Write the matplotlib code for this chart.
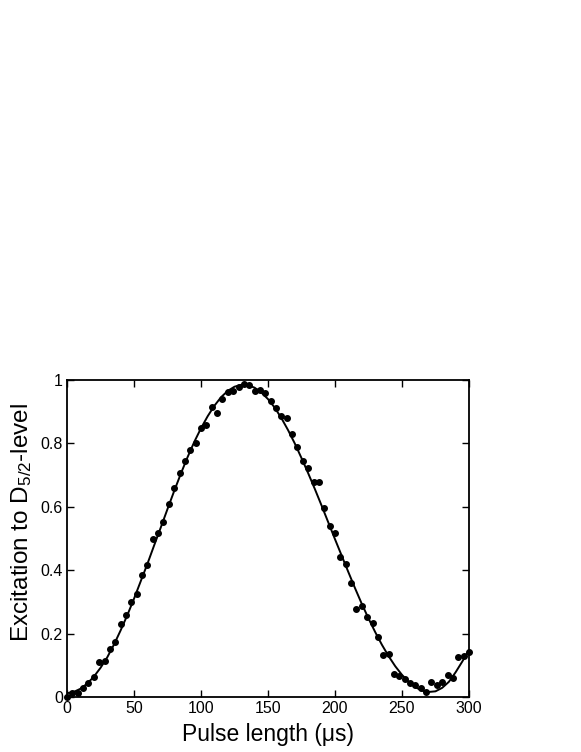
import numpy as np
import matplotlib
matplotlib.use("Agg")
import matplotlib.pyplot as plt

plt.rcParams['font.family'] = ['Liberation Sans', 'DejaVu Sans']
plt.rcParams['mathtext.default'] = 'regular'

# Measured data (pulse length in microseconds, excitation probability)
pulse_us = list(range(0, 301, 4))
excitation = [
    0.000, 0.012, 0.014, 0.027, 0.043, 0.064, 0.111, 0.115, 0.150, 0.175,
    0.230, 0.259, 0.299, 0.324, 0.384, 0.416, 0.498, 0.518, 0.553, 0.609,
    0.661, 0.708, 0.746, 0.779, 0.802, 0.848, 0.858, 0.914, 0.897, 0.939,
    0.963, 0.965, 0.979, 0.987, 0.984, 0.965, 0.968, 0.960, 0.934, 0.911,
    0.886, 0.881, 0.829, 0.788, 0.744, 0.723, 0.679, 0.679, 0.595, 0.540,
    0.519, 0.441, 0.420, 0.359, 0.278, 0.287, 0.251, 0.232, 0.190, 0.132,
    0.136, 0.073, 0.066, 0.056, 0.043, 0.038, 0.027, 0.015, 0.048, 0.038,
    0.048, 0.069, 0.059, 0.125, 0.129, 0.143,
]

# Fit curve
fit_t = list(range(0, 301, 5))
fit_y = [
    0.012, 0.016, 0.026, 0.042, 0.064, 0.092, 0.125, 0.165, 0.210, 0.258,
    0.310, 0.365, 0.420, 0.478, 0.535, 0.593, 0.650, 0.705, 0.757, 0.805,
    0.848, 0.886, 0.919, 0.946, 0.966, 0.979, 0.985, 0.984, 0.976, 0.961,
    0.940, 0.913, 0.880, 0.842, 0.800, 0.754, 0.706, 0.656, 0.604, 0.551,
    0.498, 0.446, 0.394, 0.343, 0.294, 0.248, 0.205, 0.165, 0.129, 0.097,
    0.070, 0.048, 0.031, 0.020, 0.016, 0.018, 0.029, 0.048, 0.078, 0.112,
    0.148,
]

xticks = [0, 50, 100, 150, 200, 250, 300]
yticks = [0, 0.2, 0.4, 0.6, 0.8, 1]
yticklabels = ['0', '0.2', '0.4', '0.6', '0.8', '1']

fig = plt.figure(figsize=(5.81, 7.52), dpi=100)
ax = fig.add_axes([0.1153, 0.0731, 0.6919, 0.4215])

ax.plot(fit_t, fit_y, color='black', linewidth=1.4, zorder=2)
ax.plot(pulse_us, excitation, linestyle='none', marker='o', markersize=4.0,
        color='black', clip_on=False, zorder=3)

ax.set_xlim(0, 300)
ax.set_ylim(0, 1)
ax.set_xticks(xticks)
ax.set_xticklabels([str(t) for t in xticks])
ax.set_yticks(yticks)
ax.set_yticklabels(yticklabels)
ax.tick_params(direction='in', length=5, width=1.0, labelsize=11.5,
               top=True, right=True, pad=3)
for s in ax.spines.values():
    s.set_linewidth(1.3)

ax.set_xlabel('Pulse length (\u03bcs)', fontsize=16.5, labelpad=5)
ax.set_ylabel('Excitation to D$_{5/2}$-level', fontsize=17.5, labelpad=5)
ax.yaxis.label.set_y(0.55)

fig.savefig('out.png', dpi=100)
